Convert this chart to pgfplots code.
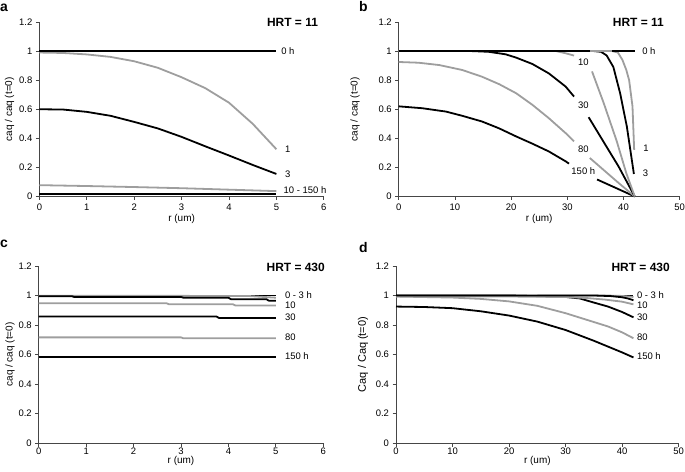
\documentclass[border=0pt]{standalone}
\usepackage{pgfplots}
\pgfplotsset{compat=1.18}
\usepackage{fontspec}
\setmainfont{Liberation Sans}
\definecolor{lg}{RGB}{158,158,158}
\definecolor{axc}{RGB}{70,70,70}

\pgfplotsset{
  panel/.style={
    scale only axis,
    axis x line*=bottom, axis y line*=left,
    axis line style={-, axc, line width=0.9bp},
    tick style={axc, line width=0.8bp},
    tick align=outside,
    major tick length=3.5bp,
    ymin=0, ymax=1.2, ytick={0,0.2,0.4,0.6,0.8,1,1.2},
    tick label style={font=\fontsize{9.5}{10}\selectfont, /pgf/number format/assume math mode=true},
    label style={font=\fontsize{11.8}{12}\selectfont},
    every axis plot/.append style={line width=1.8bp, line join=round, line cap=butt},
    clip=false,
    unbounded coords=jump,
    xlabel={r (um)},
  },
}
\tikzset{
  lab/.style={anchor=west, inner sep=0pt, font=\fontsize{9.5}{10}\selectfont},
  clab/.style={anchor=center, inner sep=0pt, font=\fontsize{9.5}{10}\selectfont},
  hrt/.style={anchor=east, inner sep=0pt, font=\bfseries\fontsize{12}{13}\selectfont},
}

\begin{document}
\begin{tikzpicture}
\path[use as bounding box] (0,0) rectangle (685bp,472bp);

% panel letters
\node[anchor=base west, inner sep=0pt, font=\bfseries\fontsize{14}{15}\selectfont] at (0bp,460bp) {a};
\node[anchor=base west, inner sep=0pt, font=\bfseries\fontsize{14}{15}\selectfont] at (359bp,460bp) {b};
\node[anchor=base west, inner sep=0pt, font=\bfseries\fontsize{14}{15}\selectfont] at (0bp,224bp) {c};
\node[anchor=base west, inner sep=0pt, font=\bfseries\fontsize{14}{15}\selectfont] at (359bp,219bp) {d};

% ---------------- panel a
\begin{axis}[panel, at={(39.4bp,275.5bp)}, anchor=south west,
  width=284.4bp, height=174.5bp,
  xmin=0, xmax=6, xtick={0,1,2,3,4,5,6},
  ylabel={caq / caq (t=0)},
  every axis y label/.style={at={(axis description cs:-0.105,0.5)}, rotate=90, anchor=center},
  every axis x label/.style={at={(axis description cs:0.5,-0.129)}, anchor=center},
]
\addplot[black] coordinates {(0,0.015)(5,0.015)};
\addplot[lg] coordinates {(0,0.078)(1,0.072)(2,0.065)(3,0.057)(4,0.047)(5,0.037)};
\addplot[black] coordinates {(0,0.6)(0.5,0.598)(1,0.582)(1.5,0.555)(2,0.513)(2.5,0.468)(3,0.41)(3.5,0.345)(4,0.282)(4.5,0.217)(5,0.155)};
\addplot[lg] coordinates {(0,0.99)(0.5,0.987)(1,0.977)(1.5,0.96)(2,0.93)(2.5,0.885)(3,0.82)(3.5,0.745)(4,0.645)(4.5,0.5)(5,0.325)};
\addplot[black] coordinates {(0,1)(5,1)};
\node[lab] at (axis cs:5.1,1) {0 h};
\node[lab] at (axis cs:5.18,0.327) {1};
\node[lab] at (axis cs:5.18,0.155) {3};
\node[lab] at (axis cs:5.15,0.045) {10 - 150 h};
\node[hrt] at (rel axis cs:0.98,1.0) {HRT = 11};
\end{axis}

% ---------------- panel b
\begin{axis}[panel, at={(398.7bp,275.5bp)}, anchor=south west,
  width=281bp, height=174.5bp,
  xmin=0, xmax=50, xtick={0,10,20,30,40,50},
  ylabel={caq / caq (t=0)},
  every axis y label/.style={at={(axis description cs:-0.155,0.5)}, rotate=90, anchor=center},
  every axis x label/.style={at={(axis description cs:0.5,-0.129)}, anchor=center},
]
\addplot[black] coordinates {(0,0.62)(4.2,0.607)(8.4,0.584)(11.3,0.555)(14.8,0.516)(17.9,0.468)(20.9,0.413)(23.8,0.363)(26.7,0.31)(29.7,0.242)(30.3,0.226)(31,nan)(35.3,0.117)(42,0)};
\addplot[lg] coordinates {(0,0.925)(3.5,0.92)(7.2,0.904)(11.3,0.87)(14.8,0.824)(17.9,0.772)(20.9,0.71)(23.8,0.63)(26.7,0.539)(29.7,0.436)(31.2,0.379)(32,nan)(34.0,0.265)(39.1,0.094)(42,0)};
\addplot[black] coordinates {(0,1)(13,1)(16,0.995)(19,0.978)(20.9,0.955)(23.8,0.911)(26.7,0.847)(29.7,0.756)(31.2,0.687)(32,nan)(33.8,0.545)(37.3,0.322)(39.1,0.208)(42,0)};
\addplot[lg] coordinates {(0,1)(28,1)(29.7,0.985)(31.2,0.969)(32,nan)(34.4,0.86)(36.5,0.64)(38.8,0.38)(40.5,0.16)(42,0)};
\addplot[black] coordinates {(0,1)(34.7,1)(36,0.995)(37,0.97)(38.2,0.89)(39.4,0.71)(40.6,0.48)(41.85,0.155)};
\addplot[lg] coordinates {(0,1)(38,1)(39,0.99)(39.8,0.94)(40.5,0.87)(41,0.80)(41.6,0.62)(41.9,0.32)};
\addplot[black] coordinates {(0,1)(34,1)};
\addplot[black] coordinates {(38,1)(42,1)};
\node[lab] at (axis cs:43.3,1) {0 h};
\node[lab] at (axis cs:43.5,0.333) {1};
\node[lab] at (axis cs:43.4,0.162) {3};
\node[clab] at (axis cs:32.85,0.92) {10};
\node[clab] at (axis cs:32.85,0.625) {30};
\node[clab] at (axis cs:32.85,0.322) {80};
\node[clab] at (axis cs:32.85,0.173) {150 h};
\node[hrt] at (rel axis cs:0.944,1.0) {HRT = 11};
\end{axis}

% ---------------- panel c
\begin{axis}[panel, at={(38.7bp,29bp)}, anchor=south west,
  width=284.6bp, height=177bp,
  xmin=0, xmax=6, xtick={0,1,2,3,4,5,6},
  xticklabel style={yshift=2bp},
  ylabel={caq / caq (t=0)},
  every axis y label/.style={at={(axis description cs:-0.101,0.5)}, rotate=90, anchor=center},
  every axis x label/.style={at={(axis description cs:0.5,-0.104)}, anchor=center},
]
\addplot[black] coordinates {(0,0.582)(5,0.582)};
\addplot[lg] coordinates {(0,0.716)(3,0.716)(3.05,0.71)(5,0.71)};
\addplot[black] coordinates {(0,0.857)(3.75,0.857)(3.8,0.848)(5,0.848)};
\addplot[lg] coordinates {(0,0.947)(2.7,0.947)(2.75,0.94)(4.1,0.94)(4.15,0.932)(5,0.932)};
\addplot[black] coordinates {(0,1)(5,1)};
\addplot[lg] coordinates {(0,0.998)(4.4,0.997)(5,0.985)};
\addplot[black] coordinates {(0,0.995)(0.7,0.995)(0.75,0.99)(3,0.99)(3.05,0.985)(4,0.985)(4.05,0.975)(4.8,0.975)(4.85,0.965)(5,0.965)};
\node[lab] at (axis cs:5.19,1.0) {0 - 3 h};
\node[lab] at (axis cs:5.19,0.934) {10};
\node[lab] at (axis cs:5.19,0.854) {30};
\node[lab] at (axis cs:5.19,0.714) {80};
\node[lab] at (axis cs:5.19,0.59) {150 h};
\node[hrt] at (rel axis cs:1.006,0.994) {HRT = 430};
\end{axis}

% ---------------- panel d
\begin{axis}[panel, at={(396bp,29bp)}, anchor=south west,
  width=282.7bp, height=177bp,
  xmin=0, xmax=50, xtick={0,10,20,30,40,50},
  xticklabel style={yshift=2bp},
  ylabel={Caq / Caq (t=0)},
  every axis y label/.style={at={(axis description cs:-0.117,0.5)}, rotate=90, anchor=center, font=\fontsize{11}{11}\selectfont},
  every axis x label/.style={at={(axis description cs:0.5,-0.104)}, anchor=center},
]
\addplot[black] coordinates {(0,0.925)(5,0.922)(10,0.914)(15,0.893)(20,0.864)(25,0.823)(30,0.766)(35,0.693)(40,0.614)(42,0.58)};
\addplot[lg] coordinates {(0,0.993)(10,0.986)(15,0.977)(20,0.96)(25,0.93)(30,0.88)(32.5,0.85)(35,0.82)(37.5,0.79)(40,0.75)(42,0.71)};
\addplot[black] coordinates {(0,1)(20,1)(25.8,0.995)(30,0.99)(32.5,0.98)(35,0.952)(37.5,0.925)(40,0.888)(42,0.852)};
\addplot[lg] coordinates {(0,0.993)(20,0.993)(30,0.99)(34,0.982)(37,0.972)(40,0.958)(42,0.94)};
\addplot[black] coordinates {(0,1)(42,1)};
\addplot[lg] coordinates {(25,1)(36,1)(38,0.999)(40,0.997)(42,0.99)};
\addplot[black] coordinates {(0,1)(35,1)(38,0.996)(40,0.988)(41,0.98)(42,0.968)};
\node[lab] at (axis cs:42.6,1.0) {0 - 3 h};
\node[lab] at (axis cs:42.6,0.934) {10};
\node[lab] at (axis cs:42.6,0.854) {30};
\node[lab] at (axis cs:42.6,0.714) {80};
\node[lab] at (axis cs:42.6,0.59) {150 h};
\node[hrt] at (rel axis cs:0.969,0.994) {HRT = 430};
\end{axis}
\end{tikzpicture}
\end{document}
